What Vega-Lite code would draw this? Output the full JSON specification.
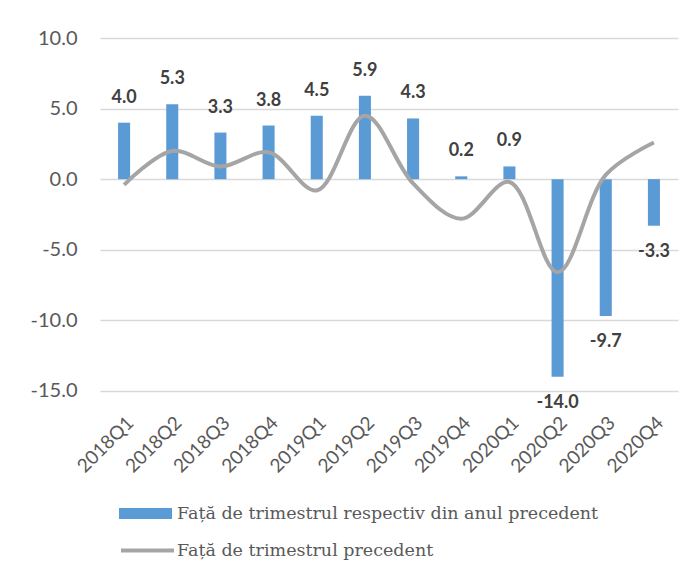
{
  "$schema": "https://vega.github.io/schema/vega-lite/v6.json",
  "width": 578,
  "height": 367,
  "autosize": {"type": "none"},
  "padding": {"left": 100, "top": 38, "right": 19, "bottom": 173},
  "background": "white",
  "config": {
    "view": {"stroke": null},
    "locale": {"number": {"decimal": ".", "thousands": ",", "grouping": [3], "currency": ["", ""], "minus": "-"}},
    "axis": {"labelFont": "Lato", "labelColor": "#595959"}
  },
  "data": {
    "values": [
      {"q": "2018Q1", "yoy": 4.0, "qoq": -0.4},
      {"q": "2018Q2", "yoy": 5.3, "qoq": 2.0},
      {"q": "2018Q3", "yoy": 3.3, "qoq": 0.9},
      {"q": "2018Q4", "yoy": 3.8, "qoq": 1.9},
      {"q": "2019Q1", "yoy": 4.5, "qoq": -0.8},
      {"q": "2019Q2", "yoy": 5.9, "qoq": 4.5},
      {"q": "2019Q3", "yoy": 4.3, "qoq": -0.3},
      {"q": "2019Q4", "yoy": 0.2, "qoq": -2.8},
      {"q": "2020Q1", "yoy": 0.9, "qoq": -0.2},
      {"q": "2020Q2", "yoy": -14.0, "qoq": -6.6},
      {"q": "2020Q3", "yoy": -9.7, "qoq": 0.3},
      {"q": "2020Q4", "yoy": -3.3, "qoq": 2.6}
    ]
  },
  "encoding": {
    "x": {
      "field": "q", "type": "ordinal", "sort": null,
      "scale": {"paddingInner": 0.75, "paddingOuter": 0.375},
      "axis": {"title": null, "labelAngle": -45, "labelFontSize": 19, "domain": false, "ticks": false, "labelPadding": 8}
    }
  },
  "layer": [
    {
      "mark": {"type": "bar", "color": "#5B9BD5"},
      "encoding": {
        "y": {
          "field": "yoy", "type": "quantitative",
          "scale": {"domain": [-15, 10]},
          "axis": {"title": null, "values": [-15, -10, -5, 0, 5, 10], "format": ".1f", "labelFontSize": 20, "domain": false, "ticks": false, "labelPadding": 23, "gridColor": "#D9D9D9", "gridWidth": 1.5}
        },
        "fill": {
          "datum": "Față de trimestrul respectiv din anul precedent",
          "type": "nominal",
          "scale": {"range": ["#5B9BD5"]},
          "legend": {
            "title": null, "orient": "none", "legendX": 19, "legendY": 449,
            "symbolType": "M-1,-0.21H1V0.21H-1Z", "symbolSize": 2809, "symbolStrokeWidth": 0,
            "labelFont": "DejaVu Serif", "labelFontSize": 17.5, "labelColor": "#595959", "labelOffset": 5, "labelLimit": 800, "padding": 0
          }
        }
      }
    },
    {
      "mark": {"type": "line", "color": "#A5A5A5", "strokeWidth": 4, "interpolate": "catmull-rom"},
      "encoding": {
        "y": {"field": "qoq", "type": "quantitative"},
        "stroke": {
          "datum": "Față de trimestrul precedent",
          "type": "nominal",
          "scale": {"range": ["#A5A5A5"]},
          "legend": {
            "title": null, "orient": "none", "legendX": 19, "legendY": 484,
            "symbolType": "M-1,0H1", "symbolSize": 2809, "symbolStrokeWidth": 4,
            "labelFont": "DejaVu Serif", "labelFontSize": 17.5, "labelColor": "#595959", "labelOffset": 1, "labelLimit": 800, "padding": 0
          }
        }
      }
    },
    {
      "transform": [{"filter": "datum.yoy >= 0"}],
      "mark": {"type": "text", "font": "Lato", "fontWeight": "bold", "fontSize": 18, "color": "#404040", "baseline": "middle", "dy": -25},
      "encoding": {
        "y": {"field": "yoy", "type": "quantitative"},
        "text": {"field": "yoy", "type": "quantitative", "format": ".1f"}
      }
    },
    {
      "transform": [{"filter": "datum.yoy < 0"}],
      "mark": {"type": "text", "font": "Lato", "fontWeight": "bold", "fontSize": 18, "color": "#404040", "baseline": "middle", "dy": 26},
      "encoding": {
        "y": {"field": "yoy", "type": "quantitative"},
        "text": {"field": "yoy", "type": "quantitative", "format": ".1f"}
      }
    }
  ],
  "resolve": {"scale": {"fill": "independent", "stroke": "independent"}}
}
